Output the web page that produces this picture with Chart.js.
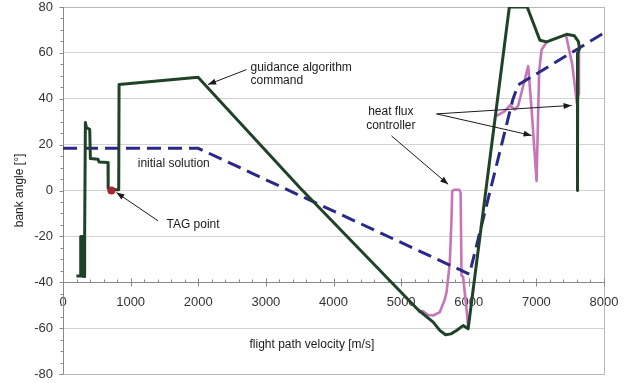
<!DOCTYPE html>
<html><head><meta charset="utf-8">
<script src="https://cdn.jsdelivr.net/npm/chart.js@4/dist/chart.umd.min.js"></script>
<style>html,body{margin:0;padding:0;background:#fff}#wrap{width:633px;height:383px}</style>
</head><body>
<div id="wrap"><canvas id="c" width="633" height="383"></canvas></div>
<script>
// ---- data ----
const guidanceVelocity = [198, 320, 258, 262, 275, 280, 295, 300, 315, 320, 331, 346, 395, 405, 518, 533, 666, 668, 690, 706, 824, 829, 1997, 3500, 5250, 5474, 5572, 5657, 5740, 5819, 5917, 5991, 6600, 6864, 7052, 7151, 7447, 7560, 7620, 7640, 7612, 7608];
const guidanceBank     = [-37.3, -37.3, -37, -20, -37, -20, -37.5, -20, -37.5, -20, 29.6, 27.4, 26.7, 13.9, 13.6, 12.4, 12.2, 1, 0, 0.3, 0.3, 46.2, 49.4, 1.3, -52, -57.4, -61, -62.9, -62.5, -61, -58.9, -60.3, 80, 80, 65.5, 64.8, 68.1, 67.5, 65, 62, 60, 0];

const initialVelocity = [0, 2000, 6010, 6650, 6730, 8000];
const initialBank     = [18.4, 18.4, -36.5, 39.5, 46, 68.7];

const heatVelocity1 = [5250, 5326, 5400, 5474, 5572, 5640, 5672, 5720, 5745, 5755, 5780, 5860, 5880, 5893, 5917, 5967, 5991];
const heatBank1     = [-53, -52.6, -54.3, -54.5, -53, -48, -44.3, -31.3, -12.5, -0.5, 0.3, 0.3, -1, -37, -37.8, -51.6, -59.6];
const heatVelocity2 = [6411, 6534, 6608, 6682, 6731, 6800, 6879, 6930, 7003, 7041, 7077, 7151];
const heatBank2     = [32.5, 34.6, 37.1, 35.3, 37, 45, 54.2, 35, 4.2, 52, 61.4, 64.6];
const heatVelocity3 = [7440, 7530, 7600, 7625, 7630];
const heatBank3     = [67.5, 55, 38, 42, 62];

const tagVelocity = [716];
const tagBank     = [0];

const xTickValues = [0, 1000, 2000, 3000, 4000, 5000, 6000, 7000, 8000];
const yTickValues = [-80, -60, -40, -20, 0, 20, 40, 60, 80];

function pts(xs, ys) { return xs.map((x, i) => ({x: x, y: ys[i]})); }

const FONT = '"Liberation Sans", Arial, sans-serif';

function arrow(ctx, x1, y1, x2, y2) {
  ctx.beginPath(); ctx.moveTo(x1, y1); ctx.lineTo(x2, y2); ctx.stroke();
  const ang = Math.atan2(y2 - y1, x2 - x1), L = 8, W = 3;
  ctx.beginPath();
  ctx.moveTo(x2, y2);
  ctx.lineTo(x2 - L * Math.cos(ang) + W * Math.sin(ang), y2 - L * Math.sin(ang) - W * Math.cos(ang));
  ctx.lineTo(x2 - L * Math.cos(ang) - W * Math.sin(ang), y2 - L * Math.sin(ang) + W * Math.cos(ang));
  ctx.closePath(); ctx.fill();
}

const decor = {
  id: 'decor',
  beforeDatasetsDraw(chart) {
    const {ctx, chartArea: a, scales: {x, y}} = chart;
    ctx.save();
    ctx.lineWidth = 1;
    ctx.strokeStyle = '#b8b8b8';
    ctx.strokeRect(Math.round(a.left) + 0.5, Math.round(a.top) + 0.5, Math.round(a.right - a.left), Math.round(a.bottom - a.top));
    ctx.strokeStyle = '#8a8a8a';
    const xl = Math.round(a.left) + 0.5;
    ctx.beginPath(); ctx.moveTo(xl, a.top); ctx.lineTo(xl, a.bottom); ctx.stroke();
    const ya = Math.round(y.getPixelForValue(-40)) + 0.5;
    ctx.beginPath(); ctx.moveTo(a.left, ya); ctx.lineTo(a.right, ya); ctx.stroke();
    for (let v = 0; v <= 8000; v += 200) {
      const px = Math.round(x.getPixelForValue(v)) + 0.5;
      const major = v % 1000 === 0;
      ctx.beginPath(); ctx.moveTo(px, ya - (major ? 4 : 3)); ctx.lineTo(px, ya + (major ? 4 : 0)); ctx.stroke();
    }
    for (let v = -80; v <= 80; v += 5) {
      const py = Math.round(y.getPixelForValue(v)) + 0.5;
      const major = v % 20 === 0;
      ctx.beginPath(); ctx.moveTo(xl - (major ? 4 : 3), py); ctx.lineTo(xl, py); ctx.stroke();
    }
    ctx.restore();
  },
  afterDatasetsDraw(chart) {
    const {ctx, scales: {x, y}} = chart;
    const X = v => x.getPixelForValue(v), Y = v => y.getPixelForValue(v);
    ctx.save();
    ctx.font = '12px ' + FONT;
    ctx.fillStyle = '#1a1a1a';
    ctx.textBaseline = 'middle';
    ctx.textAlign = 'left';
    ctx.fillText('guidance algorithm', X(2772), Y(53.7));
    ctx.fillText('command', X(2772), Y(48));
    ctx.fillText('initial solution', X(1105), Y(11.7));
    ctx.fillText('TAG point', X(1530), Y(-14.7));
    ctx.textAlign = 'center';
    ctx.fillText('heat flux', X(4848), Y(34.5));
    ctx.fillText('controller', X(4848), Y(28.4));
    ctx.fillText('flight path velocity [m/s]', X(3680), Y(-67.2));
    ctx.strokeStyle = '#1a1a1a';
    ctx.lineWidth = 1;
    arrow(ctx, X(2713), Y(52.7), X(2145), Y(46.2));
    arrow(ctx, X(1405), Y(-13.2), X(790), Y(-0.9));
    arrow(ctx, X(5524), Y(33.4), X(7521), Y(37.1));
    arrow(ctx, X(5524), Y(33.4), X(6929), Y(24.0));
    arrow(ctx, X(4858), Y(23.8), X(5695), Y(2.7));
    ctx.restore();
  }
};

const heatStyle = {borderColor: '#c874b9', borderWidth: 2.6, pointRadius: 0, fill: false, tension: 0, borderJoinStyle: 'round', order: 4};

new Chart(document.getElementById('c'), {
  type: 'line',
  data: {
    datasets: [
      {label: 'TAG point', data: pts(tagVelocity, tagBank), showLine: false, pointRadius: 4, pointBackgroundColor: '#a3272e', pointBorderColor: '#a3272e', pointBorderWidth: 0, order: 0},
      {label: 'guidance algorithm command', data: pts(guidanceVelocity, guidanceBank), borderColor: '#1f4229', borderWidth: 3, borderJoinStyle: 'round', pointRadius: 0, tension: 0, fill: false, order: 1},
      {label: 'initial solution', data: pts(initialVelocity, initialBank), borderColor: '#2a2888', borderWidth: 3, borderDash: [14, 7], pointRadius: 0, tension: 0, fill: false, order: 2},
      Object.assign({label: 'heat flux controller', data: pts(heatVelocity1, heatBank1)}, heatStyle),
      Object.assign({label: 'heat flux controller 2', data: pts(heatVelocity2, heatBank2)}, heatStyle),
      Object.assign({label: 'heat flux controller 3', data: pts(heatVelocity3, heatBank3)}, heatStyle)
    ]
  },
  options: {
    responsive: false,
    animation: false,
    events: [],
    layout: {padding: {left: 0, right: 29, top: 7, bottom: 9}},
    plugins: {legend: {display: false}, tooltip: {enabled: false}},
    scales: {
      x: {
        type: 'linear', min: 0, max: 8000,
        position: {y: -40},
        afterBuildTicks: s => { s.ticks = xTickValues.map(v => ({value: v})); },
        afterFit: s => { s.paddingLeft = 0; s.paddingRight = 0; },
        ticks: {color: '#333', font: {family: FONT, size: 13}, padding: 12, maxRotation: 0, autoSkip: false, callback: v => String(v)},
        grid: {display: false, drawTicks: false},
        border: {display: false}
      },
      y: {
        type: 'linear', min: -80, max: 80, position: 'left',
        afterBuildTicks: s => { s.ticks = yTickValues.map(v => ({value: v})); },
        afterFit: s => { s.width = 63; s.paddingTop = 0; s.paddingBottom = 0; },
        ticks: {color: '#333', font: {family: FONT, size: 13}, padding: 10, callback: v => String(v)},
        grid: {color: '#d2d2d2', lineWidth: 1, drawTicks: false},
        border: {display: false},
        title: {display: true, text: 'bank angle [°]', color: '#222', font: {family: FONT, size: 12}, padding: {top: 12, bottom: 0}}
      }
    }
  },
  plugins: [decor]
});
</script>
</body></html>
